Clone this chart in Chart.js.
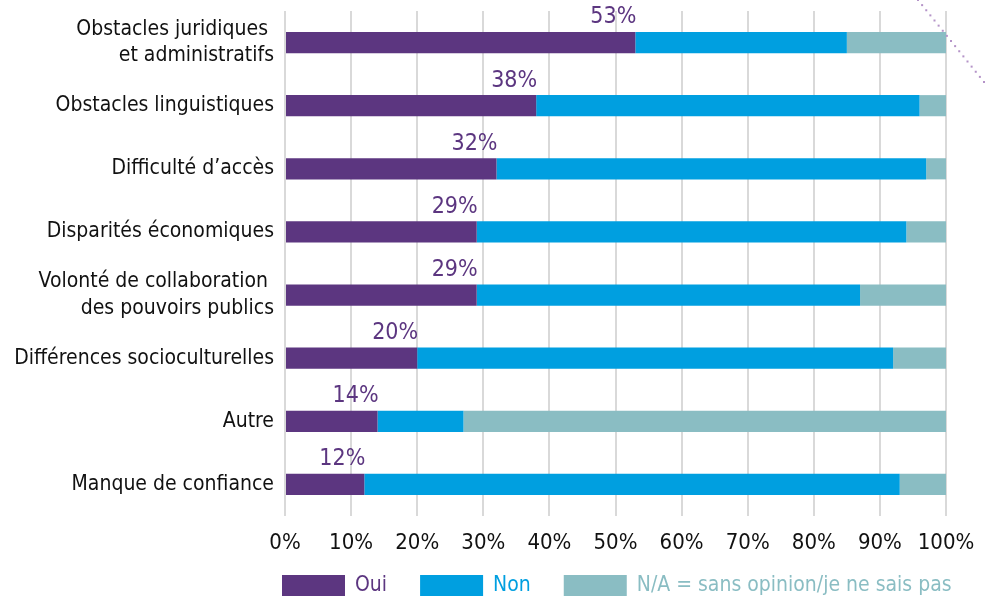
<!DOCTYPE html>
<html>
<head>
<meta charset="utf-8">
<script src="https://cdn.jsdelivr.net/npm/chart.js@4"></script>
<style>
  body { margin: 0; background: #fff; }
</style>
</head>
<body>
<script>
(() => {

    // categories, top to bottom
    const categories = [
        ["Obstacles juridiques ", "et administratifs"],
        "Obstacles linguistiques",
        "Difficulté d’accès",
        "Disparités économiques",
        ["Volonté de collaboration ", "des pouvoirs publics"],
        "Différences socioculturelles",
        "Autre",
        "Manque de confiance"
    ];
    const oui = [53, 38, 32, 29, 29, 20, 14, 12];
    const non = [32, 58, 65, 65, 58, 72, 13, 81];
    const na  = [15, 4, 3, 6, 13, 8, 73, 7];
    const seriesNames = ["Oui", "Non", "N/A = sans opinion/je ne sais pas"];
    const xTicks = [0, 10, 20, 30, 40, 50, 60, 70, 80, 90, 100];

    const colors = ["#5c3680", "#009fe0", "#8abdc3"];
    const fontFamily = "'DejaVu Sans Condensed', 'Liberation Sans Narrow', sans-serif";

    // value labels above the "Oui" segment, right aligned on its end
    const ouiLabels = {
        id: "ouiLabels",
        afterDatasetsDraw(chart) {
            const ctx = chart.ctx;
            const meta = chart.getDatasetMeta(0);
            ctx.save();
            ctx.font = "23px " + fontFamily;
            ctx.fillStyle = colors[0];
            ctx.textAlign = "right";
            ctx.textBaseline = "bottom";
            meta.data.forEach((bar, i) => {
                ctx.fillText(oui[i] + "%", bar.x + 1, bar.y - bar.height / 2 - 3);
            });
            ctx.restore();
        }
    };

    // legend drawn under the axis: wide box, coloured text
    const bottomLegend = {
        id: "bottomLegend",
        afterDraw(chart) {
            const ctx = chart.ctx;
            const area = chart.chartArea;
            let x = area.left - 3;
            const top = area.bottom + 59;
            ctx.save();
            ctx.font = "21px " + fontFamily;
            ctx.textBaseline = "middle";
            ctx.textAlign = "left";
            chart.data.datasets.forEach((ds) => {
                ctx.fillStyle = ds.backgroundColor;
                ctx.fillRect(x, top, 63, 21);
                ctx.fillText(ds.label, x + 73, top + 11);
                x += 73 + ctx.measureText(ds.label).width + 33;
            });
            ctx.restore();
        }
    };

    // dotted decoration in the top right corner
    const cornerDots = {
        id: "cornerDots",
        afterDraw(chart) {
            const ctx = chart.ctx;
            const w = chart.width;
            ctx.save();
            ctx.fillStyle = "#b493c8";
            for (let i = 0; i <= 16; i++) {
                const t = i / 16;
                ctx.fillRect(w - 68 + 66 * t, 82 * t - 1, 2, 2);
            }
            ctx.restore();
        }
    };

    function graph() {
        const canvas = document.createElement("canvas");
        canvas.width = 985;
        canvas.height = 598;
        document.body.appendChild(canvas);
        const ctx = canvas.getContext("2d");

        const data = [oui, non, na].map((vals, k) => ({
            label: seriesNames[k],
            data: vals,
            backgroundColor: colors[k],
            borderWidth: 0,
            categoryPercentage: 1,
            barPercentage: 0.335
        }));

        new Chart(ctx, {
            type: "bar",
            data: { labels: categories, datasets: data },
            plugins: [ouiLabels, bottomLegend, cornerDots],
            options: {
                indexAxis: "y",
                responsive: false,
                maintainAspectRatio: false,
                animation: false,
                layout: { padding: { top: 11, right: 39, bottom: 0, left: 0 } },
                scales: {
                    x: {
                        stacked: true,
                        min: 0,
                        max: 100,
                        afterBuildTicks: (scale) => {
                            scale.ticks = xTicks.map(v => ({ value: v }));
                        },
                        afterFit: (scale) => {
                            scale.height = 82;
                            scale.paddingLeft = 0;
                            scale.paddingRight = 0;
                        },
                        grid: { color: "#d9d9d9", lineWidth: 2, drawTicks: false },
                        border: { display: false },
                        ticks: {
                            padding: 14,
                            color: "#111",
                            font: { family: fontFamily, size: 22 },
                            callback: (v) => v + "%"
                        }
                    },
                    y: {
                        stacked: true,
                        afterFit: (scale) => {
                            scale.width = 285;
                            scale.paddingTop = 0;
                            scale.paddingBottom = 0;
                        },
                        grid: { display: false, drawTicks: false },
                        border: { display: false },
                        ticks: {
                            padding: 11,
                            color: "#111",
                            font: { family: fontFamily, size: 21, lineHeight: 1.25 }
                        }
                    }
                },
                plugins: {
                    tooltip: { enabled: false },
                    legend: { display: false }
                }
            }
        });
    }
    graph();

})()
</script>
</body>
</html>
